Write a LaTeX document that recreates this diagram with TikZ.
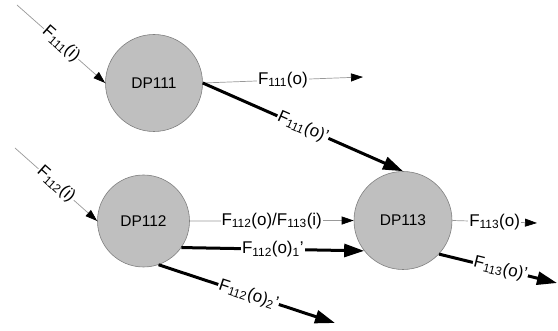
\documentclass[tikz,border=0pt]{standalone}
\usepackage{fontspec}
\setmainfont{Liberation Sans}
\usetikzlibrary{arrows.meta}
\begin{document}
\begin{tikzpicture}[x=1pt,y=1pt,
 dp/.style={circle,fill=black!25,draw=black!50,line width=0.6pt,minimum size=97pt,inner sep=0pt,font=\fontsize{15.5}{18}\selectfont},
 thinflow/.style={draw=black!40,line width=0.7pt,-{Triangle[length=12pt,width=8pt,color=black]}},
 thickflow/.style={draw=black,line width=3pt,-{Triangle[length=20pt,width=13pt]}},
 lab/.style={fill=white,inner sep=1pt,font=\fontsize{17}{20}\selectfont}
]
\useasboundingbox[fill=white] (0,0) rectangle (558,-331);
\node[dp] (DP111) at (154,-83) {DP111};
\node[dp,minimum size=92pt] (DP112) at (143.5,-221) {DP112};
\node[dp,minimum size=98pt] (DP113) at (403,-220.5) {DP113};

\coordinate (i111) at (17,-5);
\coordinate (i112) at (15,-148);
\coordinate (o111) at (363,-77);
\coordinate (o1122) at (335,-323);
\coordinate (o113) at (537,-223);
\coordinate (o113p) at (557,-283);

\draw[thinflow] (i111) -- node[lab,sloped] {F\textsubscript{111}(i)} (DP111.west);
\draw[thinflow] (i112) -- node[lab,sloped] {F\textsubscript{112}(i)} (DP112.west);
\draw[thinflow] (DP111.east) -- node[lab] {F\textsubscript{111}(o)} (o111);
\draw[thickflow] (DP111.east) -- node[lab,sloped] {F\textsubscript{111}(o)'} (DP113.north);
\draw[thinflow] (DP112.east) -- node[lab] {F\textsubscript{112}(o)/F\textsubscript{113}(i)} (DP113.west);
\draw[thickflow] (DP112.-35) -- node[lab] {F\textsubscript{112}(o)\textsubscript{1}'} (DP113.218);
\draw[thickflow] (DP112.-71) -- node[lab,sloped,pos=0.51] {F\textsubscript{112}(o)\textsubscript{2}'} (o1122);
\draw[thinflow] (DP113.east) -- node[lab] {F\textsubscript{113}(o)} (o113);
\draw[thickflow] (DP113.-43) -- node[lab,sloped,pos=0.52] {F\textsubscript{113}(o)'} (o113p);
\end{tikzpicture}
\end{document}
